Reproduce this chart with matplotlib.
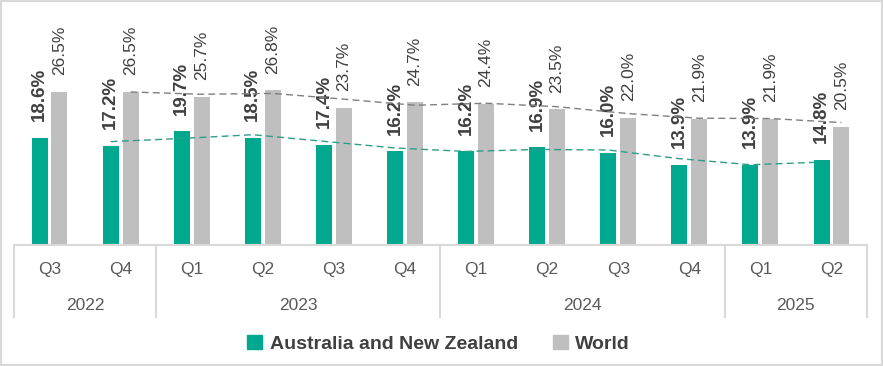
import numpy as np
import matplotlib.pyplot as plt
from matplotlib.patches import Patch, Rectangle

# Datos
quarters = ['Q3', 'Q4', 'Q1', 'Q2', 'Q3', 'Q4', 'Q1', 'Q2', 'Q3', 'Q4', 'Q1', 'Q2']
years = ['2022', '2023', '2024', '2025']
year_counts = [2, 4, 4, 2]
anz = [18.6, 17.2, 19.7, 18.5, 17.4, 16.2, 16.2, 16.9, 16.0, 13.9, 13.9, 14.8]
world = [26.5, 26.5, 25.7, 26.8, 23.7, 24.7, 24.4, 23.5, 22.0, 21.9, 21.9, 20.5]
# lineas de tendencia (leidas a ojo, desde Q4 2022)
anz_trend = [17.9, 18.45, 19.1, 17.95, 16.8, 16.2, 16.55, 16.45, 14.95, 13.9, 14.35]
world_trend = [26.5, 26.1, 26.25, 25.25, 24.2, 24.55, 23.95, 22.75, 21.95, 21.9, 21.2]

green = '#00A88E'
grey = '#BFBFBF'
txt = '#404040'
line_col = '#D9D9D9'

plt.rcParams['font.family'] = ['Liberation Sans', 'DejaVu Sans']

fig = plt.figure(figsize=(8.83, 3.66), dpi=100)
ax = fig.add_axes([14 / 883, 121 / 366, 853 / 883, 231 / 366])

x = np.arange(len(quarters))
off = 0.14
w = 0.225
ax.bar(x - off, anz, width=w, color=green, zorder=2)
ax.bar(x + off, world, width=w, color=grey, zorder=2)

for xi, v in zip(x - off, anz):
    ax.annotate(f'{v:.1f}%', (xi, v), xytext=(0, 12), textcoords='offset points',
                rotation=90, ha='center', va='bottom', fontsize=13.5,
                fontweight='bold', color=txt)
for xi, v in zip(x + off, world):
    ax.annotate(f'{v:.1f}%', (xi, v), xytext=(0, 12), textcoords='offset points',
                rotation=90, ha='center', va='bottom', fontsize=12.5, color=txt)

ax.plot(x[1:] - off, anz_trend, ls=(0, (5, 3)), lw=1, color='#2E9E8A', zorder=3)
ax.plot(x[1:] + off, world_trend, ls=(0, (5, 3)), lw=1, color='#7F7F7F', zorder=3)

ax.set_xlim(-0.5, len(quarters) - 0.5)
ax.set_ylim(0, 40)
for s in ['top', 'left', 'right']:
    ax.spines[s].set_visible(False)
ax.spines['bottom'].set_color(line_col)
ax.spines['bottom'].set_linewidth(1.5)
ax.set_xticks([])
ax.set_yticks([])

# eje de categorias en dos niveles
tr = ax.get_xaxis_transform()
for xi, q in zip(x, quarters):
    ax.text(xi, -0.108, q, transform=tr, ha='center', va='center',
            fontsize=12.5, color='#595959')
bounds = np.concatenate([[0], np.cumsum(year_counts)]) - 0.5
for b in bounds:
    ax.plot([b, b], [0, -0.312], transform=tr, color=line_col, lw=1.5,
            clip_on=False)
for i, yr in enumerate(years):
    mid = (bounds[i] + bounds[i + 1]) / 2
    ax.text(mid, -0.264, yr, transform=tr, ha='center', va='center',
            fontsize=12.5, color='#595959')

handles = [Patch(color=green, label='Australia and New Zealand'),
           Patch(color=grey, label='World')]
leg = fig.legend(handles=handles, loc='center', bbox_to_anchor=(0.497, 0.06),
                 ncol=2, frameon=False, handlelength=0.75, handleheight=0.75,
                 handletextpad=0.4, columnspacing=1.8,
                 prop={'size': 14, 'weight': 'bold'})
for t in leg.get_texts():
    t.set_color(txt)

fig.patches.append(Rectangle((0, 0), 1, 1, transform=fig.transFigure,
                             fill=False, edgecolor=line_col, lw=3))

fig.savefig('out.png', dpi=100)
